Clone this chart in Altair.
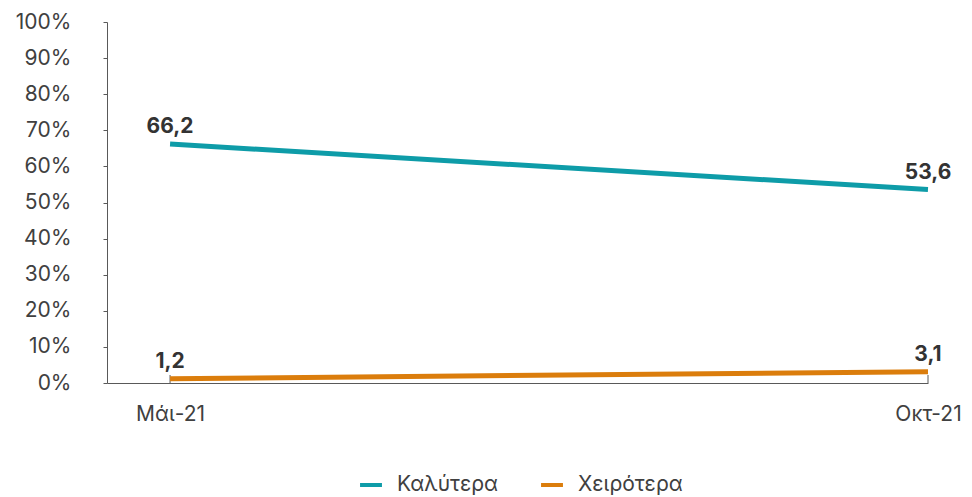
import altair as alt
import pandas as pd

categories = ["Μάι-21", "Οκτ-21"]
series_names = ["Καλύτερα", "Χειρότερα"]
better = [66.2, 53.6]
worse = [1.2, 3.1]
colors = ["#0e9ca8", "#db7d0c"]

rows = []
for i, c in enumerate(categories):
    rows.append({"idx": i, "cat": c, "series": series_names[0], "v": better[i]})
    rows.append({"idx": i, "cat": c, "series": series_names[1], "v": worse[i]})
df = pd.DataFrame(rows)

FONT = "Inter"
FS = 21
W = 821
DOM = [-0.0832, 1]
label_expr = "datum.value == 0 ? '%s' : (datum.value == 1 ? '%s' : '')" % (categories[0], categories[1])

x = alt.X("idx:Q",
          scale=alt.Scale(domain=DOM, nice=False, zero=False),
          axis=alt.Axis(values=[0, 1], labelExpr=label_expr, title=None, grid=False,
                        ticks=False, domainColor="#595959", labelFont=FONT,
                        labelFontSize=FS, labelColor="#404040", labelPadding=20,
                        labelFlush=False))
y = alt.Y("v:Q",
          scale=alt.Scale(domain=[0, 100], nice=False),
          axis=alt.Axis(values=list(range(0, 101, 10)), labelExpr="datum.value + '%'",
                        title=None, grid=False, tickSize=4, tickColor="#595959",
                        domainColor="#595959", labelFont=FONT, labelFontSize=FS,
                        labelColor="#404040", labelPadding=32))
color = alt.Color("series:N", scale=alt.Scale(domain=series_names, range=colors),
                  legend=alt.Legend(title=None, orient="none", direction="horizontal",
                                    legendX=251, legendY=450, symbolType="stroke",
                                    symbolStrokeWidth=4, symbolSize=480,
                                    labelFont=FONT, labelFontSize=FS, labelColor="#404040",
                                    labelOffset=13, columnPadding=35))

base = alt.Chart(df)
lines = base.mark_line(strokeWidth=5).encode(x=x, y=y, color=color, detail="series:N")
ticks = alt.Chart(pd.DataFrame({"idx": [0, 1]})).mark_rule(color="#595959", strokeWidth=1).encode(
    x=alt.X("idx:Q", scale=alt.Scale(domain=DOM, nice=False, zero=False)),
    y=alt.value(361), y2=alt.value(353))
labels = base.mark_text(dy=-17, baseline="middle", align="center", font=FONT,
                        fontSize=21, fontWeight="bold", color="#333333").transform_calculate(
    lab="replace(format(datum.v, '.1f'), '.', ',')").encode(x=x, y=y, text="lab:N")

chart = alt.layer(ticks, lines, labels).properties(
    width=W, height=361,
    autosize=alt.AutoSizeParams(type="none"),
    padding={"left": 99, "top": 14, "right": 36, "bottom": 112},
).configure_view(stroke=None)

chart.save("out.html", embed_options={"renderer": "svg", "actions": False})
